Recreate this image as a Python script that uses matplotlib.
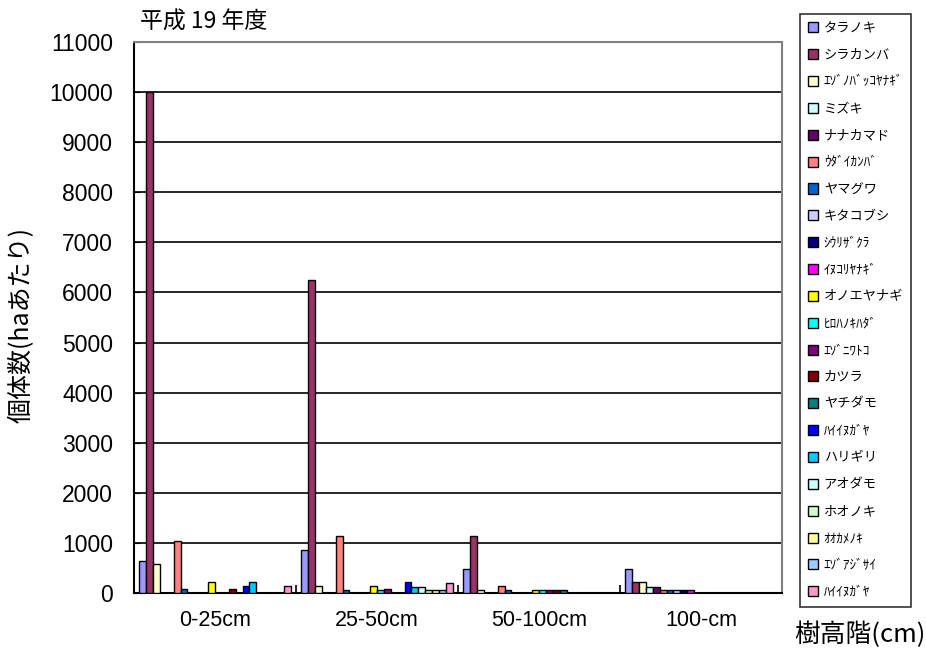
import numpy as np
import matplotlib
matplotlib.use("Agg")
import matplotlib.pyplot as plt
from matplotlib.patches import Patch

plt.rcParams["font.family"] = ["Noto Sans CJK JP", "DejaVu Sans"]
NUM_FONT = ["Liberation Sans", "Noto Sans CJK JP"]

# 樹高階
categories = ["0-25cm", "25-50cm", "50-100cm", "100-cm"]

species = [
    "タラノキ", "シラカンバ", "ｴｿﾞﾉﾊﾞｯｺﾔﾅｷﾞ", "ミズキ", "ナナカマド", "ｳﾀﾞｲｶﾝﾊﾞ",
    "ヤマグワ", "キタコブシ", "ｼｳﾘｻﾞｸﾗ", "ｲﾇｺﾘﾔﾅｷﾞ", "オノエヤナギ", "ﾋﾛﾊﾉｷﾊﾀﾞ",
    "ｴｿﾞﾆﾜﾄｺ", "カツラ", "ヤチダモ", "ﾊｲｲﾇｶﾞﾔ", "ハリギリ", "アオダモ",
    "ホオノキ", "ｵｵｶﾒﾉｷ", "ｴｿﾞｱｼﾞｻｲ", "ﾊｲｲﾇｶﾞﾔ",
]

colors = [
    "#9999FF", "#993366", "#FFFFCC", "#CCFFFF", "#660066", "#FF8080",
    "#0066CC", "#CCCCFF", "#000080", "#FF00FF", "#FFFF00", "#00FFFF",
    "#800080", "#800000", "#008080", "#0000FF", "#00CCFF", "#CCFFFF",
    "#CCFFCC", "#FFFF99", "#99CCFF", "#FF99CC",
]

# 個体数 (ha あたり)、樹種ごとに樹高階順
counts = [
    [640, 860, 480, 480],
    [10000, 6250, 1130, 220],
    [570, 140, 60, 220],
    [0, 0, 0, 120],
    [0, 0, 0, 120],
    [1030, 1130, 140, 60],
    [70, 60, 60, 60],
    [0, 0, 0, 60],
    [0, 0, 0, 60],
    [0, 0, 0, 60],
    [220, 140, 60, 0],
    [0, 60, 60, 0],
    [0, 70, 60, 0],
    [70, 0, 60, 0],
    [0, 0, 60, 0],
    [140, 220, 0, 0],
    [220, 120, 0, 0],
    [0, 120, 0, 0],
    [0, 60, 0, 0],
    [0, 60, 0, 0],
    [0, 60, 0, 0],
    [140, 200, 0, 0],
]

fig = plt.figure(figsize=(9.26, 6.5), dpi=100)
ax = fig.add_axes([134 / 926, 57 / 650, 648 / 926, 551 / 650])

n = len(species)
gap = 1.5  # Excel 既定の棒間隔 150%
w = 1.0 / (n + gap)
x = np.arange(len(categories))
for i, (name, col, vals) in enumerate(zip(species, colors, counts)):
    offset = -0.5 + (gap / 2 + i + 0.5) * w
    ax.bar(x + offset, vals, width=w, color=col, edgecolor="black",
           linewidth=1.0, zorder=3)

ax.set_xlim(-0.5, len(categories) - 0.5)
ax.set_ylim(0, 11000)
ax.set_yticks(np.arange(0, 11001, 1000))
ax.grid(axis="y", color="black", linewidth=1.2, zorder=0)
ax.tick_params(axis="y", direction="in", length=4, pad=15)
for lab in ax.get_yticklabels():
    lab.set_family(NUM_FONT)
    lab.set_fontsize(16.5)

ax.set_xticks(x)
ax.set_xticklabels(categories, fontsize=15.5, family=NUM_FONT)
ax.tick_params(axis="x", length=0, pad=12)
ax.set_xticks(x[:-1] + 0.5, minor=True)
ax.tick_params(axis="x", which="minor", direction="in", length=6, width=1.2)

for side in ("left", "bottom"):
    ax.spines[side].set_color("black")
    ax.spines[side].set_linewidth(1.5)
for side in ("top", "right"):
    ax.spines[side].set_color("#808080")
    ax.spines[side].set_linewidth(1.5)

fig.text(22 / 926, 1 - 325 / 650, "個体数(haあたり)", fontsize=18,
         rotation=90, va="center", ha="center")
fig.text(140 / 926, 1 - 22 / 650, "平成 19 年度", fontsize=16.5, va="center", ha="left")
fig.text(860 / 926, 1 - 635 / 650, "樹高階(cm)", fontsize=18.5, va="center", ha="center")

handles = [Patch(facecolor=c, edgecolor="black", linewidth=1.0) for c in colors]
leg = fig.legend(handles, species, loc="upper left",
                 bbox_to_anchor=(800 / 926, 1 - 14 / 650), fontsize=9.5,
                 handlelength=0.8, handleheight=0.8, handletextpad=0.4,
                 labelspacing=1.05, borderpad=0.6, fancybox=False,
                 frameon=True, edgecolor="black", borderaxespad=0)
leg.get_frame().set_linewidth(1.2)

fig.savefig("out.png", dpi=100)
